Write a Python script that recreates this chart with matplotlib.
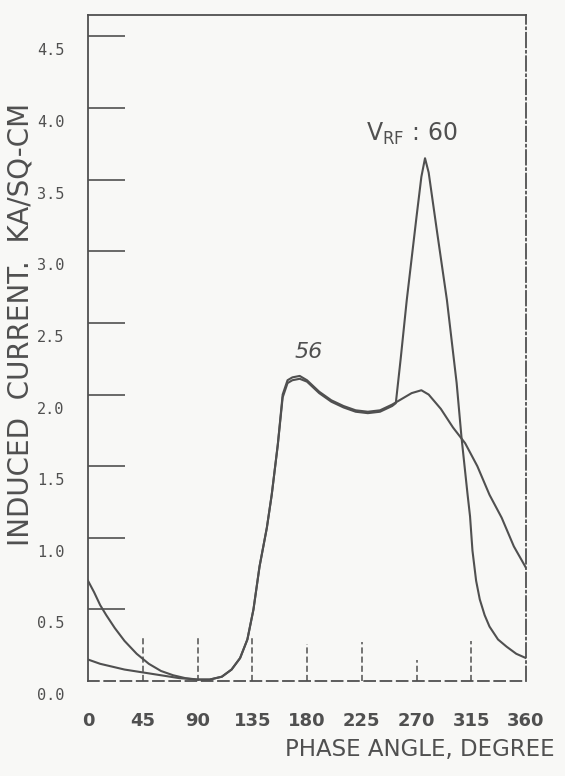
import matplotlib
matplotlib.use('Agg')
import matplotlib.pyplot as plt
import matplotlib.transforms as mtransforms

# 图形参数
plt.rcParams['font.family'] = ['DejaVu Sans']
ink = '#505050'
paper = '#f8f8f6'

# 数据
phase_56 = [0, 5, 10, 15, 22, 30, 40, 50, 60, 70, 80, 90, 100, 110, 118, 125, 131, 136,
            141, 147, 151, 156, 160, 164, 168, 174, 180, 190, 200, 210, 220, 230, 240,
            250, 258, 266, 274, 280, 290, 300, 310, 320, 330, 340, 350, 360]
current_56 = [0.70, 0.62, 0.53, 0.46, 0.37, 0.28, 0.19, 0.12, 0.07, 0.04, 0.02, 0.01, 0.01,
              0.03, 0.08, 0.16, 0.29, 0.50, 0.80, 1.07, 1.30, 1.65, 2.00, 2.10, 2.12, 2.13,
              2.10, 2.02, 1.96, 1.92, 1.89, 1.88, 1.89, 1.93, 1.97, 2.01, 2.03, 2.00, 1.90,
              1.77, 1.66, 1.50, 1.30, 1.14, 0.94, 0.79]

phase_60 = [0, 10, 20, 30, 45, 60, 75, 90, 100, 110, 118, 125, 131, 136, 141, 147, 151,
            156, 160, 164, 168, 174, 180, 190, 200, 210, 220, 230, 240, 250, 253, 257, 262,
            266, 270, 274, 277, 280, 287, 295, 303, 307, 312, 314, 316, 319, 322, 326, 330,
            337, 344, 352, 360]
current_60 = [0.15, 0.12, 0.10, 0.08, 0.06, 0.04, 0.02, 0.01, 0.01, 0.03, 0.08, 0.16, 0.29,
              0.50, 0.80, 1.07, 1.30, 1.65, 1.98, 2.08, 2.10, 2.11, 2.09, 2.01, 1.95, 1.91,
              1.88, 1.87, 1.88, 1.92, 1.94, 2.25, 2.66, 2.95, 3.24, 3.52, 3.65, 3.55, 3.13,
              2.66, 2.08, 1.70, 1.30, 1.15, 0.91, 0.70, 0.57, 0.46, 0.38, 0.29, 0.24, 0.19,
              0.16]

x_ticks = [0, 45, 90, 135, 180, 225, 270, 315, 360]
x_tick_labels = ['0', '45', '90', '135', '180', '225', '270', '315', '360']
y_ticks = [0.0, 0.5, 1.0, 1.5, 2.0, 2.5, 3.0, 3.5, 4.0, 4.5]
y_tick_labels = ['0.0', '0.5', '1.0', '1.5', '2.0', '2.5', '3.0', '3.5', '4.0', '4.5']
tick_heights = [0.30, 0.31, 0.31, 0.26, 0.27, 0.15, 0.28]

fig = plt.figure(figsize=(5.65, 7.76), dpi=100, facecolor=paper)
ax = fig.add_axes([88 / 565, 1 - 681 / 776, 438 / 565, 666 / 776], facecolor=paper)

ax.plot(phase_56, current_56, color=ink, lw=1.5)
ax.plot(phase_60, current_60, color=ink, lw=1.5)

ax.set_xlim(0, 360)
ax.set_ylim(0, 4.65)

# 边框
for side in ['left', 'top', 'bottom', 'right']:
    ax.spines[side].set_color(ink)
    ax.spines[side].set_linewidth(1.3)
ax.spines['bottom'].set_linestyle((0, (6, 3)))
ax.spines['right'].set_linestyle((0, (8, 2, 1, 2)))

# y 轴刻度 (向内, 标签略低)
ax.set_yticks(y_ticks)
ax.set_yticklabels(y_tick_labels)
ax.tick_params(axis='y', direction='in', length=26.5, width=1.2, color=ink,
               pad=17, labelsize=11, labelcolor=ink)
ax.yaxis.get_major_ticks()[0].tick1line.set_visible(False)
shift = mtransforms.ScaledTranslation(0, -13 / 100, fig.dpi_scale_trans)
for lab in ax.get_yticklabels():
    lab.set_transform(lab.get_transform() + shift)
    lab.set_family('DejaVu Sans Mono')

# x 轴刻度 (虚线短竖线)
ax.set_xticks(x_ticks)
ax.set_xticklabels(x_tick_labels)
ax.tick_params(axis='x', length=0, pad=22, labelsize=13, labelcolor=ink)
for lab in ax.get_xticklabels():
    lab.set_fontweight('bold')
ax.vlines(x_ticks[1:-1], 0, tick_heights, colors=ink, linestyles=(0, (4, 2)), lw=1.1)

# 轴标签
ax.set_ylabel('INDUCED  CURRENT.  KA/SQ-CM', fontsize=20, color=ink, va='center')
ax.yaxis.set_label_coords(-0.155, 0.536)
ax.set_xlabel('PHASE ANGLE, DEGREE', fontsize=16.5, color=ink, va='center')
ax.xaxis.set_label_coords(0.758, -0.1036)

# 注释
ax.text(181, 2.30, '56', fontsize=16, color=ink, style='italic', ha='center', va='center')
ax.text(266, 3.82, r'V$_{\mathrm{RF}}$ : 60', fontsize=17, color=ink, ha='center', va='center')

plt.savefig('out.png', dpi=100, facecolor=paper)
plt.close()
